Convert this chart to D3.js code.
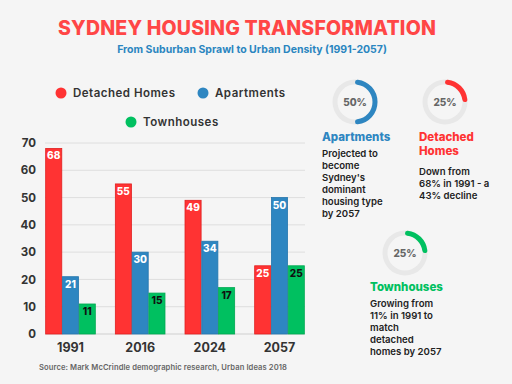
<!DOCTYPE html>
<html lang="en">
<head>
<meta charset="UTF-8">
<title>Sydney Housing Transformation</title>
<script src="https://d3js.org/d3.v7.min.js"></script>
<style>
  body { margin: 0; background: #f5f5f5; }
  svg text { font-family: 'Inter', 'DejaVu Sans', sans-serif; }
</style>
</head>
<body>
<svg width="512" height="384"></svg>
<script>
const years = ["1991", "2016", "2024", "2057"];
const detached = [68, 55, 49, 25];
const apartments = [21, 30, 34, 50];
const townhouses = [11, 15, 17, 25];
const yTicks = [0, 10, 20, 30, 40, 50, 60, 70];

const seriesNames = ["Detached Homes", "Apartments", "Townhouses"];
const seriesColors = ["#ff3333", "#2e86c1", "#00c060"];
const seriesStrokes = ["#e02020", "#2677ad", "#00a852"];
const labelColors = ["#ffffff", "#ffffff", "#111111"];

// 2057 share cards
const cardNames = ["Apartments", "Detached Homes", "Townhouses"];
const cardShares = [50, 25, 25];
const cardNotes = [
  ["Projected to", "become", "Sydney's", "dominant", "housing type", "by 2057"],
  ["Down from", "68% in 1991 - a", "43% decline"],
  ["Growing from", "11% in 1991 to", "match", "detached", "homes by 2057"]
];

const svg = d3.select("svg");
svg.append("rect").attr("width", 512).attr("height", 384).attr("fill", "#f5f5f5");

svg.append("text")
  .attr("x", 247).attr("y", 35)
  .attr("text-anchor", "middle")
  .style("font-size", "19.5px").style("font-weight", "800")
  .style("letter-spacing", "0.2px")
  .attr("fill", "#ff4646")
  .text("SYDNEY HOUSING TRANSFORMATION");

svg.append("text")
  .attr("x", 252).attr("y", 53)
  .attr("text-anchor", "middle")
  .style("font-size", "10.5px").style("font-weight", "700")
  .attr("fill", "#2a85c0")
  .text("From Suburban Sprawl to Urban Density (1991-2057)");

// legend
const legendPos = [[61, 93], [203, 93], [131, 122]];
seriesNames.forEach((name, i) => {
  const g = svg.append("g").attr("transform", `translate(${legendPos[i][0]},${legendPos[i][1]})`);
  g.append("circle").attr("r", 5.5).attr("fill", seriesColors[i]);
  g.append("text").attr("x", 12).attr("dy", "0.35em")
    .style("font-size", "11.5px").style("font-weight", "600")
    .style("letter-spacing", "0.5px")
    .attr("fill", "#333").text(name);
});

// chart
const x0 = d3.scaleBand().domain(years).range([45, 305]).paddingInner(0.268).paddingOuter(0);
const x1 = d3.scaleBand().domain(seriesNames).range([0, x0.bandwidth()]).padding(0.04);
const y = d3.scaleLinear().domain([0, 70]).range([334, 143]);

const grid = svg.append("g");
grid.selectAll("line").data(yTicks).enter().append("line")
  .attr("x1", 45).attr("x2", 305)
  .attr("y1", d => y(d)).attr("y2", d => y(d))
  .attr("stroke", d => d === 0 ? "#cfcfcf" : "#dedede").attr("stroke-width", 1);

const yAxis = svg.append("g").attr("transform", "translate(36,0)")
  .call(d3.axisLeft(y).tickValues(yTicks).tickSize(0).tickPadding(0));
yAxis.select(".domain").remove();
yAxis.selectAll("text")
  .style("font-family", "'Inter', sans-serif")
  .style("font-size", "11.5px").style("font-weight", "700").attr("fill", "#333");

const xAxis = svg.append("g").attr("transform", "translate(0,336)")
  .call(d3.axisBottom(x0).tickSize(0).tickPadding(7));
xAxis.select(".domain").remove();
xAxis.selectAll("text")
  .style("font-family", "'Inter', sans-serif")
  .style("font-size", "12.5px").style("font-weight", "700").attr("fill", "#333");

const values = [detached, apartments, townhouses];
const rows = years.map((yr, j) => ({ year: yr, vals: values.map(v => v[j]) }));

const groups = svg.selectAll("g.grp").data(rows).enter().append("g")
  .attr("class", "grp")
  .attr("transform", d => `translate(${x0(d.year)},0)`);

groups.selectAll("rect").data(d => d.vals.map((v, i) => ({ v, i }))).enter().append("rect")
  .attr("x", d => x1(seriesNames[d.i]))
  .attr("width", x1.bandwidth())
  .attr("y", d => y(d.v))
  .attr("height", d => y(0) - y(d.v))
  .attr("fill", d => seriesColors[d.i])
  .attr("stroke", d => seriesStrokes[d.i]).attr("stroke-width", 0.8);

groups.selectAll("text.val").data(d => d.vals.map((v, i) => ({ v, i }))).enter().append("text")
  .attr("class", "val")
  .attr("x", d => x1(seriesNames[d.i]) + x1.bandwidth() / 2)
  .attr("y", d => y(d.v) + 11)
  .attr("text-anchor", "middle")
  .style("font-size", "10px").style("font-weight", "800")
  .attr("fill", d => labelColors[d.i])
  .text(d => d.v);

svg.append("text")
  .attr("x", 163).attr("y", 370)
  .attr("text-anchor", "middle")
  .style("font-size", "7.6px").style("font-weight", "600")
  .style("letter-spacing", "0.1px")
  .attr("fill", "#666")
  .text("Source: Mark McCrindle demographic research, Urban Ideas 2018");

// share cards
const cardPos = [
  { cx: 355, cy: 102, tx: 322, ty: 141, gap: 16, title: ["Apartments"], color: seriesColors[1] },
  { cx: 445, cy: 102, tx: 419, ty: 141, gap: 20, title: ["Detached", "Homes"], color: seriesColors[0] },
  { cx: 405, cy: 253, tx: 370, ty: 291, gap: 16, title: ["Townhouses"], color: seriesColors[2] }
];
const pct = d3.scaleLinear().domain([0, 100]).range([0, 2 * Math.PI]);
const ring = d3.arc().innerRadius(17.5).outerRadius(22.5);

cardPos.forEach((c, i) => {
  const g = svg.append("g").attr("transform", `translate(${c.cx},${c.cy})`);
  g.append("path").attr("d", ring({ startAngle: 0, endAngle: 2 * Math.PI })).attr("fill", "#e8e8e8");
  g.append("path").attr("d", ring.cornerRadius(2.5)({ startAngle: 0, endAngle: pct(cardShares[i]) }))
    .attr("fill", c.color);
  g.append("text").attr("text-anchor", "middle").attr("dy", "0.36em")
    .style("font-size", "10px").style("font-weight", "800").attr("fill", "#666")
    .text(cardShares[i] + "%");

  const t = svg.append("text").attr("x", c.tx).attr("y", c.ty)
    .style("font-size", "11.5px").style("font-weight", "800").attr("fill", c.color);
  c.title.forEach((line, k) => t.append("tspan").attr("x", c.tx).attr("dy", k ? 14 : 0).text(line));

  const noteY = c.ty + (c.title.length - 1) * 14 + c.gap;
  const n = svg.append("text").attr("x", c.tx).attr("y", noteY)
    .style("font-size", "9.6px").style("font-weight", "600").attr("fill", "#222");
  cardNotes[i].forEach((line, k) => n.append("tspan").attr("x", c.tx).attr("dy", k ? 12 : 0).text(line));
});
</script>
</body>
</html>
